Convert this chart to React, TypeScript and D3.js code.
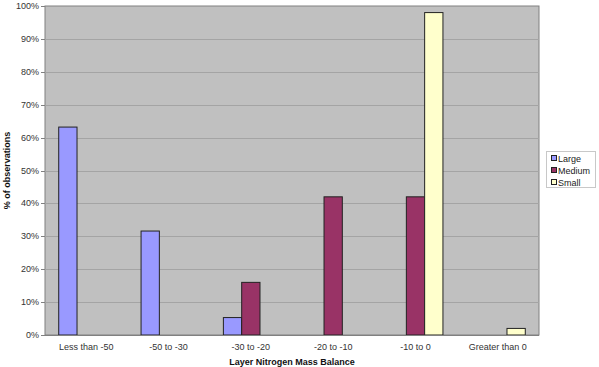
import React from "react";
import * as d3 from "d3";

const categories = ["Less than -50", "-50 to -30", "-30 to -20", "-20 to -10", "-10 to 0", "Greater than 0"];
const seriesNames = ["Large", "Medium", "Small"];
const largeValues = [63.2, 31.6, 5.3, 0, 0, 0];
const mediumValues = [0, 0, 16, 42, 42, 0];
const smallValues = [0, 0, 0, 0, 98, 2];
const yTicks = [0, 10, 20, 30, 40, 50, 60, 70, 80, 90, 100];
const colors = ["#9999FF", "#993366", "#FFFFCC"];

export default function App() {
  const W = 599, H = 367;
  const left = 45, right = 539, top = 6, bottom = 335;
  const series = [largeValues, mediumValues, smallValues];
  const x = d3.scaleBand<string>().domain(categories).range([left, right]).paddingInner(0).paddingOuter(0);
  const y = d3.scaleLinear().domain([0, 100]).range([bottom, top]);
  const bw = x.bandwidth() / 4.5;
  const font = "'Liberation Sans', Arial, sans-serif";
  return (
    <svg width={W} height={H} style={{ position: "absolute", left: 0, top: 0, background: "#fff" }} fontFamily={font}>
      <rect x={left} y={top} width={right - left} height={bottom - top} fill="#C0C0C0" stroke="#808080" strokeWidth={1} />
      {yTicks.map((t) => (
        <g key={t}>
          {t > 0 && t < 100 && (
            <line x1={left} x2={right} y1={Math.round(y(t)) + 0.5} y2={Math.round(y(t)) + 0.5} stroke="#A4A4A4" strokeWidth={1} />
          )}
          <line x1={left - 4} x2={left} y1={Math.round(y(t)) + 0.5} y2={Math.round(y(t)) + 0.5} stroke="#808080" />
          <text x={left - 6} y={y(t) + 3} textAnchor="end" fontSize={9} fill="#333">{t}%</text>
        </g>
      ))}
      {categories.map((c, i) => {
        const start = (x(c) as number) + (x.bandwidth() - 3 * bw) / 2;
        return (
          <g key={c}>
            {series.map((s, j) =>
              s[i] > 0 ? (
                <rect key={j} x={start + j * bw} y={y(s[i])} width={bw} height={bottom - y(s[i])} fill={colors[j]} stroke="#222" strokeWidth={1} />
              ) : null
            )}
            <text x={(x(c) as number) + x.bandwidth() / 2} y={350} textAnchor="middle" fontSize={9} fill="#333">{c}</text>
          </g>
        );
      })}
      <line x1={left} x2={right} y1={bottom + 0.5} y2={bottom + 0.5} stroke="#808080" />
      <text x={(left + right) / 2} y={365} textAnchor="middle" fontSize={9} fontWeight="bold" fill="#111">Layer Nitrogen Mass Balance</text>
      <text transform={`translate(10, ${(top + bottom) / 2}) rotate(-90)`} textAnchor="middle" fontSize={9} fontWeight="bold" fill="#111">% of observations</text>
      <rect x={546.5} y={151.5} width={49} height={36} fill="#fff" stroke="#C8C8C8" />
      {seriesNames.map((n, j) => (
        <g key={n}>
          <rect x={551.5} y={155.5 + j * 12} width={5} height={5} fill={colors[j]} stroke="#222" />
          <text x={558} y={161.5 + j * 12} fontSize={9} fill="#222">{n}</text>
        </g>
      ))}
    </svg>
  );
}
